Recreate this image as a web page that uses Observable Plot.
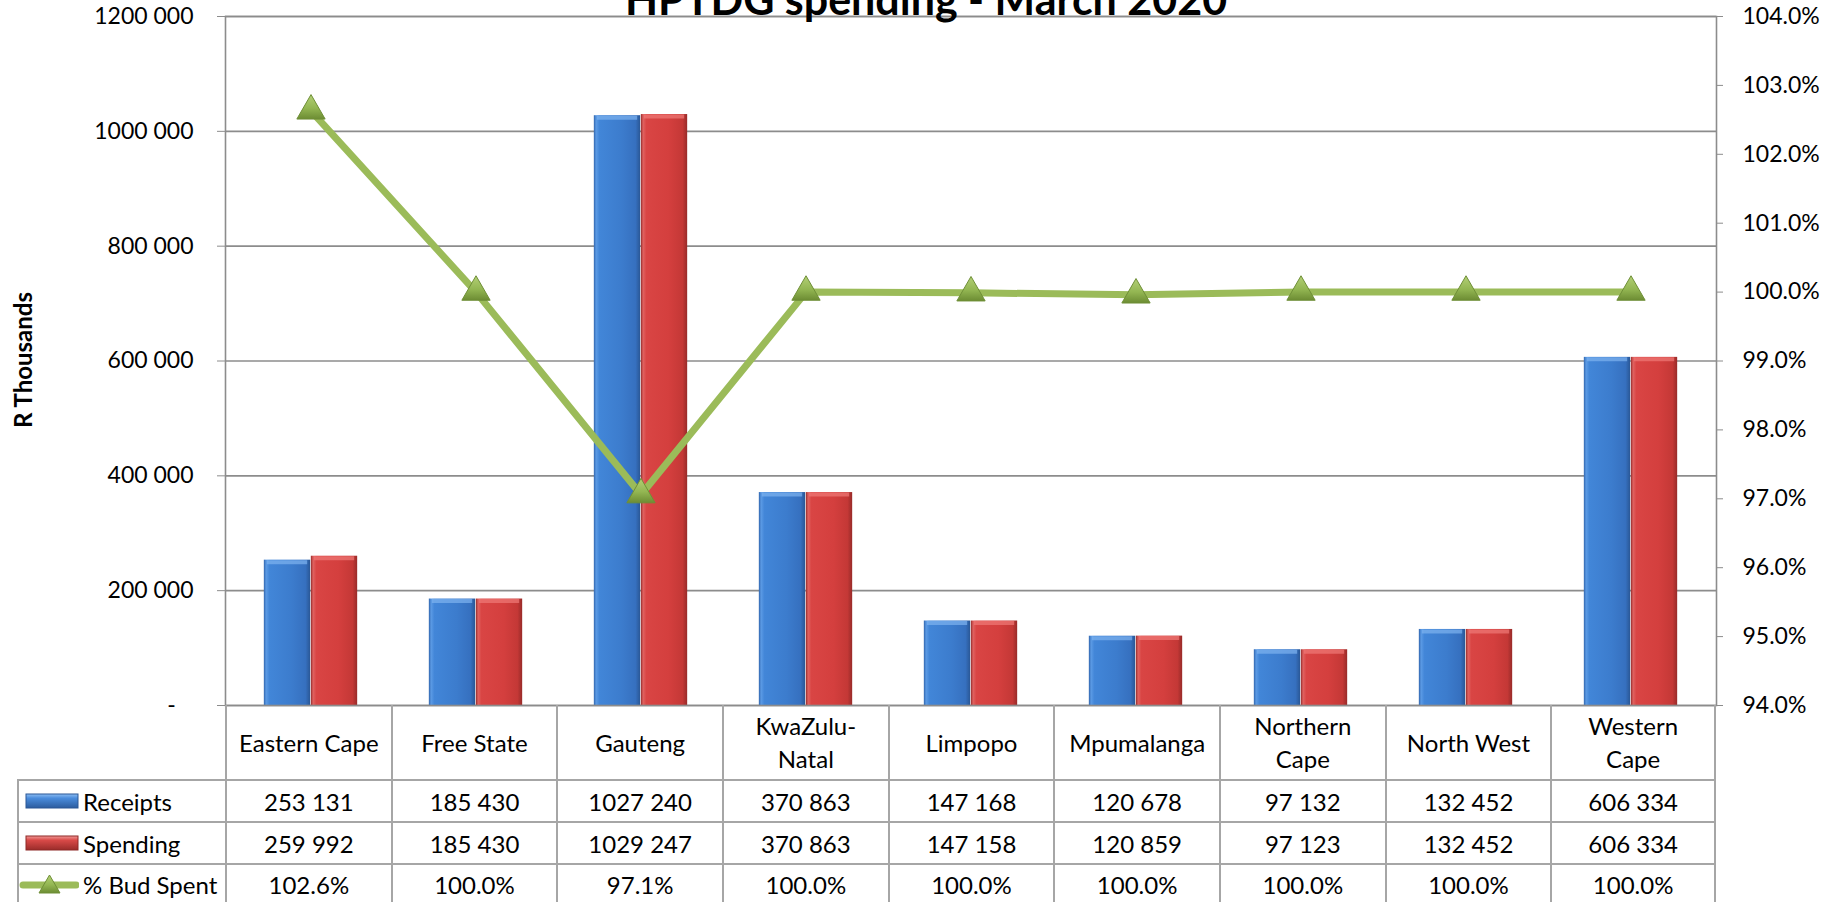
<!DOCTYPE html>
<html>
<head>
<meta charset="utf-8">
<script src="https://cdn.jsdelivr.net/npm/d3@7"></script>
<script src="https://cdn.jsdelivr.net/npm/@observablehq/plot@0.6"></script>
<style>
  html, body { margin: 0; padding: 0; background: #fff; overflow: hidden; }
  #wrap { position: relative; width: 1835px; height: 902px; overflow: hidden; font-family: Lato, "Open Sans", sans-serif; }
  #chart { position: absolute; left: 0; top: 0; }
  #title { position: absolute; left: 0; width: 1852px; top: -23px; text-align: center; font: bold 43px/43px Lato, sans-serif; color: #000; white-space: nowrap; }
  #ylabel { position: absolute; left: 22px; top: 360px; transform: translate(-50%, -50%) rotate(-90deg); font: bold 24px Lato, sans-serif; white-space: nowrap; color: #000; }
  .cell { position: absolute; box-sizing: border-box; display: flex; align-items: center; justify-content: center; text-align: center; font: 24px/33px Lato, sans-serif; color: #000; border-color: #a6a6a6; border-style: solid; border-width: 0; white-space: pre-line; }
  .legend { justify-content: flex-start; }
</style>
</head>
<body>
<div id="wrap">
  <div id="chart"></div>
  <div id="title">HPTDG spending - March 2020</div>
  <div id="ylabel">R Thousands</div>
</div>
<script>
// ---------- data ----------
const categories = ["Eastern Cape", "Free State", "Gauteng", "KwaZulu-Natal", "Limpopo", "Mpumalanga", "Northern Cape", "North West", "Western Cape"];
const categoryLabels = ["Eastern Cape", "Free State", "Gauteng", "KwaZulu-\nNatal", "Limpopo", "Mpumalanga", "Northern\nCape", "North West", "Western\nCape"];
const receipts = [253131, 185430, 1027240, 370863, 147168, 120678, 97132, 132452, 606334];
const spending = [259992, 185430, 1029247, 370863, 147158, 120859, 97123, 132452, 606334];
const pctSpent = [102.63, 100.0, 97.06, 100.0, 99.99, 99.96, 100.0, 100.0, 100.0];
const leftTicks = [0, 200000, 400000, 600000, 800000, 1000000, 1200000];
const rightTicks = [94, 95, 96, 97, 98, 99, 100, 101, 102, 103, 104];
const seriesNames = ["Receipts", "Spending", "% Bud Spent"];

// ---------- helpers ----------
const leftMax = 1200000, rightMin = 94, rightMax = 104;
const toLeft = p => (p - rightMin) / (rightMax - rightMin) * leftMax;
const fromLeft = v => rightMin + v / leftMax * (rightMax - rightMin);
const fmtNum = v => v === 0 ? "-\u00a0\u00a0\u00a0" : (v >= 1000 ? Math.floor(v / 1000) + " " + String(v % 1000).padStart(3, "0") : String(v));
const fmtPct = p => p.toFixed(1) + "%";

const rows = categories.map((c, i) => ({cat: c, receipts: receipts[i], spending: spending[i], pct: pctSpent[i]}));

// ---------- layout ----------
const W = 1835, H = 720, mL = 225, mR = 119, mT = 16, mB = 15;
const bw = (W - mL - mR) / categories.length;
const barW = 47;
const gridColor = "#8c8c8c";

const plot = Plot.plot({
  width: W, height: H,
  marginLeft: mL, marginRight: mR, marginTop: mT, marginBottom: mB,
  style: {fontFamily: "Lato, sans-serif", fontSize: "23px", color: "#000", background: "transparent", overflow: "visible"},
  x: {type: "band", domain: categories, padding: 0, axis: null},
  y: {domain: [0, leftMax], axis: null},
  marks: [
    Plot.gridY({ticks: leftTicks, stroke: gridColor, strokeWidth: 1.6, strokeOpacity: 1}),
    Plot.barY(rows, {x: "cat", y: "receipts", fill: "url(#gBlue)", insetLeft: bw / 2 - barW, insetRight: bw / 2}),
    Plot.barY(rows, {x: "cat", y: "spending", fill: "url(#gRed)", insetLeft: bw / 2, insetRight: bw / 2 - barW}),
    Plot.tickY(rows, {x: "cat", y: "receipts", stroke: "#7fb3f0", strokeWidth: 4, strokeOpacity: 0.7, dy: 2, insetLeft: bw / 2 - barW + 3, insetRight: bw / 2 + 3}),
    Plot.tickY(rows, {x: "cat", y: "spending", stroke: "#f07a78", strokeWidth: 4, strokeOpacity: 0.7, dy: 2, insetLeft: bw / 2 + 3, insetRight: bw / 2 - barW + 3}),
    Plot.frame({stroke: gridColor, strokeWidth: 1.6}),
    Plot.axisY({anchor: "left", ticks: leftTicks, tickFormat: fmtNum, tickSize: 8, tickPadding: 24, stroke: gridColor, fill: "#000", fontSize: 23, label: null}),
    Plot.axisY({anchor: "right", ticks: rightTicks.map(toLeft), tickFormat: d => fmtPct(fromLeft(d)), tickSize: 6, tickPadding: 20, stroke: gridColor, fill: "#000", fontSize: 23, label: null}),
    Plot.line(rows, {x: "cat", y: d => toLeft(d.pct), stroke: "#9BBB59", strokeWidth: 7}),
    Plot.dot(rows, {x: "cat", y: d => toLeft(d.pct), symbol: "triangle", r: 10.5, fill: "url(#gGreen)", stroke: "#6f8f37", strokeWidth: 1})
  ]
});

// gradients
const defs = d3.select(plot).insert("defs", ":first-child");
function grad(id, stops, vertical) {
  const g = defs.append("linearGradient").attr("id", id)
    .attr("x1", 0).attr("y1", 0).attr("x2", vertical ? 0 : 1).attr("y2", vertical ? 1 : 0);
  stops.forEach(([o, c]) => g.append("stop").attr("offset", o).attr("stop-color", c));
}
grad("gBlue", [["0%", "#2f64ad"], ["5%", "#5b9ae4"], ["12%", "#4286d8"], ["60%", "#3c7ccd"], ["90%", "#3670bf"], ["100%", "#2a5795"]]);
grad("gRed", [["0%", "#962a29"], ["5%", "#e06260"], ["12%", "#d94544"], ["60%", "#d43f3e"], ["90%", "#c43836"], ["100%", "#982b29"]]);
grad("gGreen", [["0%", "#b3d076"], ["55%", "#93b652"], ["100%", "#6c8c33"]], true);

document.getElementById("chart").appendChild(plot);

// ---------- data table ----------
const wrap = document.getElementById("wrap");
const tableTop = H - mB;
const catRowH = 74, rowH = 42;
const firstColLeft = 17;
const border = "2px";
function cell(left, top, width, height, html, cls, borders) {
  const d = document.createElement("div");
  d.className = "cell" + (cls ? " " + cls : "");
  Object.assign(d.style, {left: left + "px", top: top + "px", width: width + "px", height: height + "px"});
  if (borders.l) d.style.borderLeftWidth = border;
  if (borders.t) d.style.borderTopWidth = border;
  if (borders.r) d.style.borderRightWidth = border;
  if (borders.b) d.style.borderBottomWidth = border;
  if (typeof html === "string") d.textContent = html; else d.appendChild(html);
  wrap.appendChild(d);
  return d;
}
// category row
categoryLabels.forEach((lab, i) => {
  cell(mL + i * bw, tableTop, bw, catRowH, lab, "", {l: true, r: i === categories.length - 1});
});
// legend icons
function icon(kind) {
  const ns = "http://www.w3.org/2000/svg";
  const s = document.createElementNS(ns, "svg");
  s.setAttribute("width", 60); s.setAttribute("height", 24);
  s.style.marginRight = "4px"; s.style.flex = "none";
  if (kind === "line") {
    s.innerHTML = '<line x1="4" y1="13" x2="57" y2="13" stroke="#9BBB59" stroke-width="7" stroke-linecap="round"/>' +
      '<path d="M30.5,3 L41,21 L20,21 Z" fill="url(#gGreen)" stroke="#6f8f37" stroke-width="1"/>';
  } else {
    const f = kind === "blue" ? "url(#gBlueV)" : "url(#gRedV)";
    const st = kind === "blue" ? "#2a5795" : "#8e2826";
    s.innerHTML = '<rect x="7" y="5" width="52" height="14" fill="' + f + '" stroke="' + st + '" stroke-width="1"/>';
  }
  return s;
}
grad("gBlueV", [["0%", "#8dbdf2"], ["30%", "#4a8cdc"], ["100%", "#2c5c9e"]], true);
grad("gRedV", [["0%", "#f09a98"], ["30%", "#d94a48"], ["100%", "#9a2c2a"]], true);

const rowDefs = [
  {name: seriesNames[0], vals: receipts.map(fmtNum), icon: "blue"},
  {name: seriesNames[1], vals: spending.map(fmtNum), icon: "red"},
  {name: seriesNames[2], vals: pctSpent.map(fmtPct), icon: "line"}
];
rowDefs.forEach((r, j) => {
  const top = tableTop + catRowH + j * rowH;
  const frag = document.createElement("span");
  frag.style.display = "flex"; frag.style.alignItems = "center";
  frag.appendChild(icon(r.icon));
  const t = document.createElement("span"); t.textContent = r.name; frag.appendChild(t);
  cell(firstColLeft, top, mL - firstColLeft, rowH, frag, "legend", {l: true, t: true, b: j === 2});
  r.vals.forEach((v, i) => {
    cell(mL + i * bw, top, bw, rowH, v, "", {l: true, t: true, r: i === categories.length - 1, b: j === 2});
  });
});
</script>
</body>
</html>
